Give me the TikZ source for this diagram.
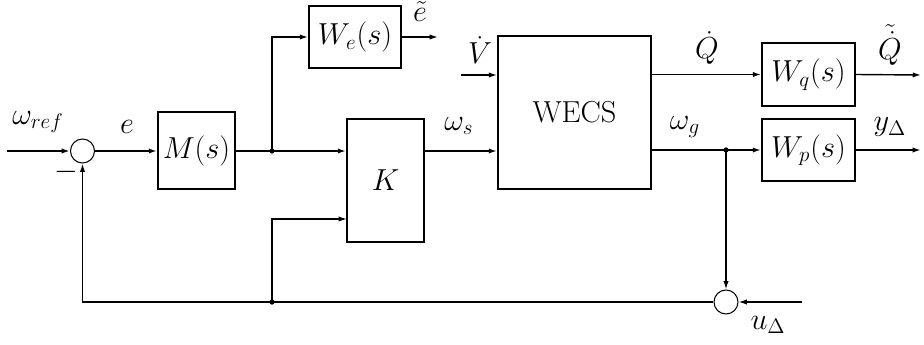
\documentclass[tikz,border=0pt]{standalone}
\usetikzlibrary{arrows.meta}
\begin{document}
\begin{tikzpicture}[x=0.02cm,y=-0.02cm,font=\LARGE,
  block/.style={draw,line width=1.1pt,inner sep=0pt},
  sumc/.style={draw,circle,line width=0.6pt,minimum size=0.48cm,inner sep=0pt},
  sig/.style={line width=1.1pt,-{Latex[length=4.7pt,width=3pt]}},
  aux/.style={line width=0.8pt,-{Latex[length=4.7pt,width=3pt]}},
  dot/.style={fill,circle,inner sep=0pt,minimum size=3pt}]
  \useasboundingbox (0,0) rectangle (924,345);
  % blocks
  \node[sumc] (sumA) at (82.5,151) {};
  \node[sumc] (sumB) at (726,302) {};
  \node[block,minimum width=1.54cm,minimum height=1.54cm] (M) at (196.5,150.5) {$M(s)$};
  \node[block,minimum width=1.84cm,minimum height=1.24cm] (We) at (355,37) {$W_e(s)$};
  \node[block,minimum width=1.54cm,minimum height=2.46cm] (K) at (385.5,180.5) {$K$};
  \node[block,minimum width=3.06cm,minimum height=3.06cm] (wecs) at (574.5,112.5) {WECS};
  \node[block,minimum width=1.86cm,minimum height=1.26cm] (Wq) at (808.5,74.5) {$W_q(s)$};
  \node[block,minimum width=1.86cm,minimum height=1.24cm] (Wp) at (808.5,150) {$W_p(s)$};
  % free ends and branch points
  \coordinate (ref) at (7,151);
  \coordinate (etil) at (438,37);
  \coordinate (vin) at (461,75);
  \coordinate (qout) at (921,75);
  \coordinate (yout) at (921,150);
  \coordinate (uin) at (802,302);
  \coordinate (jA) at (272,151);
  \coordinate (jB) at (272,302);
  \coordinate (jC) at (726,150);
  \coordinate (kin) at (347,219);
  % connectors
  \draw[sig] (ref) -- (sumA.west);
  \draw[sig] (sumA.east) -- (M.west |- sumA);
  \draw[sig] (M.east |- sumA) -- (K.west |- sumA);
  \draw[aux] (jA) |- (We.west);
  \draw[aux] (We.east) -- (etil);
  \draw[sig] (K.east |- sumA) -- (wecs.west |- sumA);
  \draw[aux] (vin) -- (wecs.west |- vin);
  \draw[aux] (wecs.east |- Wq) -- (Wq.west);
  \draw[aux] (Wq.east) -- (qout);
  \draw[sig] (wecs.east |- Wp) -- (Wp.west);
  \draw[sig] (Wp.east) -- (yout);
  \draw[aux] (jC) -- (sumB.north);
  \draw[aux] (uin) -- (sumB.east);
  \draw[aux] (sumB.west) -- (jB) -| (sumA.south);
  \draw[aux] (jB) |- (kin);
  \node[dot] (dA) at (jA) {};
  \node[dot] (dB) at (jB) {};
  \node[dot] (dC) at (jC) {};
  % labels
  \node (lref) at (38,122) {$\omega_{ref}$};
  \node (le) at (127,127) {$e$};
  \node (lminus) at (66,172) {$-$};
  \node (letil) at (420,12) {$\tilde{e}$};
  \node (lws) at (459,126) {$\omega_s$};
  \node (lv) at (480,50) {$\dot{V}$};
  \node (lq) at (707,48) {$\dot{Q}$};
  \node (lqt) at (890,45) {$\tilde{\dot{Q}}$};
  \node (lwg) at (685,127) {$\omega_g$};
  \node (ly) at (890,127) {$y_\Delta$};
  \node (lu) at (768,325) {$u_\Delta$};
\end{tikzpicture}
\end{document}
